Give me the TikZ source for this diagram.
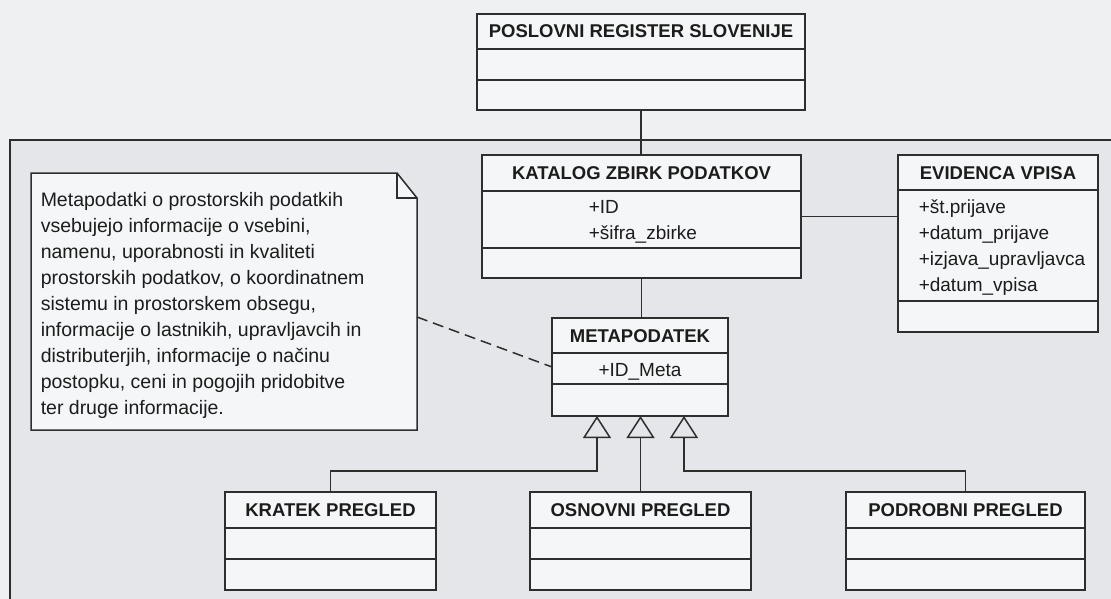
\documentclass[tikz,border=0pt]{standalone}
\usepackage{fontspec}
\setmainfont{Liberation Sans}
\usetikzlibrary{arrows.meta}
\definecolor{paper}{HTML}{EFF0F1}
\definecolor{panel}{HTML}{E4E6E9}
\definecolor{boxfill}{HTML}{F5F6F7}
\definecolor{ink}{HTML}{2E2E2E}
\definecolor{txt}{HTML}{1C1C1C}

% class box: name, x, y, width, height, first divider, second divider, title
\newcommand\umlclass[8]{%
  \node[umlbox, minimum width=#4pt, minimum height=#5pt] (#1) at (#2,#3) {};
  \draw[divider] ([yshift=-#6pt]#1.north west) -- ([yshift=-#6pt]#1.north east);
  \draw[divider] ([yshift=-#7pt]#1.north west) -- ([yshift=-#7pt]#1.north east);
  \node[ttl] (#1-title) at ([yshift=-24pt]#1.north) {#8};
}

\begin{document}
\begin{tikzpicture}[x=1pt,y=-1pt,line width=1.5pt,
  umlbox/.style={draw=ink, fill=boxfill, rectangle, anchor=north west,
    inner sep=0pt, outer sep=0pt},
  ttl/.style={anchor=base, font=\fontsize{18.5}{20}\selectfont\bfseries,
    text=txt, inner sep=0pt},
  attr/.style={anchor=base west, font=\fontsize{19}{21}\selectfont,
    text=txt, inner sep=0pt},
  divider/.style={draw=ink},
  assoc/.style={draw=ink},
  gen/.style={draw=ink, -{Triangle[open, length=22pt, width=28pt]}},
  notelink/.style={draw=ink, dash pattern=on 11pt off 6pt},
]
\useasboundingbox (0,0) rectangle (1111,599);
\fill[paper] (0,0) rectangle (1111,599);

% package frame
\fill[panel] (10,140) rectangle (1125,620);
\draw[ink] (10,620) -- (10,140) -- (1125,140);

% classes
\umlclass{pos}{477}{14}{328}{96}{35}{66}{POSLOVNI REGISTER SLOVENIJE}
\umlclass{kat}{482}{155}{319}{123}{36}{93}{KATALOG ZBIRK PODATKOV}
\node[attr] (kat-a1) at (588,213) {+ID};
\node[attr] (kat-a2) at (588,239) {+šifra\_zbirke};

\umlclass{evi}{898}{155}{200}{177}{35}{146}{EVIDENCA VPISA}
\node[attr] (evi-a1) at (918,213) {+št.prijave};
\node[attr] (evi-a2) at (918,239) {+datum\_prijave};
\node[attr] (evi-a3) at (918,265) {+izjava\_upravljavca};
\node[attr] (evi-a4) at (918,291) {+datum\_vpisa};

\umlclass{meta}{552}{318}{176}{98}{35}{66}{METAPODATEK}
\node[attr, anchor=base] (meta-a1) at (640,376) {+ID\_Meta};

\umlclass{kra}{225}{492}{211}{98}{36}{67}{KRATEK PREGLED}
\umlclass{osn}{530}{492}{221}{98}{36}{67}{OSNOVNI PREGLED}
\umlclass{pod}{846}{492}{239}{98}{36}{67}{PODROBNI PREGLED}

% note with folded corner
\node[inner sep=0pt, outer sep=0pt, minimum width=386pt, minimum height=257pt,
  anchor=north west] (note) at (31,173) {};
\draw[ink, fill=boxfill] (note.north west) -- ([xshift=-20pt]note.north east)
  -- ([yshift=-25pt]note.north east) -- (note.south east)
  -- (note.south west) -- cycle;
\draw[ink] ([xshift=-20pt]note.north east) -- ([xshift=-20pt,yshift=-25pt]note.north east)
  -- ([yshift=-25pt]note.north east);
\node[anchor=north west, align=left, font=\fontsize{19.5}{26}\selectfont,
  text=txt, inner sep=0pt] (notetext) at (40,191.5)
  {Metapodatki o prostorskih podatkih\\
   vsebujejo informacije o vsebini,\\
   namenu, uporabnosti in kvaliteti\\
   prostorskih podatkov, o koordinatnem\\
   sistemu in prostorskem obsegu,\\
   informacije o lastnikih, upravljavcih in\\
   distributerjih, informacije o načinu\\
   postopku, ceni in pogojih pridobitve\\
   ter druge informacije.};

% associations
\draw[assoc] (pos.south) -- (pos.south |- kat.north);
\draw[assoc] (kat.east) -- (kat.east -| evi.west);
\draw[assoc] (kat.south) -- (kat.south |- meta.north);
\draw[notelink] ([yshift=-15.5pt]note.east) -- (meta.west);

% generalizations
\coordinate (g1) at ([xshift=-43pt]meta.south);
\coordinate (g2) at (meta.south);
\coordinate (g3) at ([xshift=44pt]meta.south);
\draw[gen] (kra.north) |- ([yshift=-55pt]g1) -- (g1);
\draw[gen] (osn.north) -- (osn.north |- g2);
\draw[gen] (pod.north) |- ([yshift=-55pt]g3) -- (g3);
\end{tikzpicture}
\end{document}
